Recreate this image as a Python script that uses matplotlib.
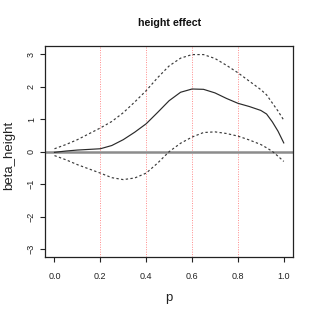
import numpy as np
import matplotlib
matplotlib.use('Agg')
import matplotlib.pyplot as plt

plt.rcParams['font.family'] = ['Liberation Sans', 'DejaVu Sans']

# values
p = [0.0, 0.05, 0.1, 0.15, 0.2, 0.25, 0.3, 0.35, 0.4, 0.45, 0.5, 0.55,
     0.6, 0.65, 0.7, 0.75, 0.8, 0.85, 0.9, 0.925, 0.95, 0.975, 1.0]
beta = [-0.02, 0.02, 0.05, 0.07, 0.09, 0.19, 0.37, 0.6, 0.86, 1.21, 1.57, 1.83,
        1.93, 1.92, 1.81, 1.64, 1.49, 1.39, 1.27, 1.16, 0.92, 0.63, 0.27]
upper = [0.09, 0.22, 0.37, 0.55, 0.73, 0.93, 1.2, 1.53, 1.88, 2.28, 2.64, 2.88,
         2.99, 2.99, 2.87, 2.66, 2.43, 2.17, 1.91, 1.75, 1.5, 1.25, 0.97]
lower = [-0.12, -0.25, -0.4, -0.53, -0.66, -0.8, -0.86, -0.81, -0.66, -0.35, 0.0, 0.26,
         0.45, 0.59, 0.61, 0.56, 0.48, 0.36, 0.22, 0.12, 0.01, -0.14, -0.3]
vlines = [0.2, 0.4, 0.6, 0.8]

fig = plt.figure(figsize=(3.16, 3.16), dpi=100)
ax = fig.add_axes([0.1434, 0.186, 0.7836, 0.668])

for v in vlines:
    ax.axvline(v, color='#ff8a8a', linestyle=(0, (1, 1.5)), linewidth=0.7, zorder=1)
ax.axhline(0, color='#8c8c8c', linewidth=1.8, zorder=2)

ax.plot(p, beta, color='#2a2a2a', linewidth=0.85, zorder=3)
ax.plot(p, upper, color='#3a3a3a', linewidth=0.85, linestyle=(0, (2, 2)), zorder=3)
ax.plot(p, lower, color='#3a3a3a', linewidth=0.85, linestyle=(0, (2, 2)), zorder=3)

ax.set_xlim(-0.04, 1.04)
ax.set_ylim(-3.25, 3.25)
ax.set_xticks([0.0, 0.2, 0.4, 0.6, 0.8, 1.0])
ax.set_xticklabels(['0.0', '0.2', '0.4', '0.6', '0.8', '1.0'])
ax.set_yticks([-3, -2, -1, 0, 1, 2, 3])
ax.set_yticklabels(['\u22123', '\u22122', '\u22121', '0', '1', '2', '3'], rotation=90, va='center')
ax.tick_params(labelsize=6.5, length=3.8, width=0.8, colors='#222222')
ax.tick_params(axis='x', pad=6.5)
ax.tick_params(axis='y', pad=3)

for s in ax.spines.values():
    s.set_linewidth(0.9)
    s.set_color('#222222')

fig.text(0.5355, 0.047, 'p', fontsize=9.5, ha='center', va='baseline', color='#222222')
fig.text(0.029, 0.509, 'beta_height', fontsize=9.5, rotation=90, ha='center', va='center',
         color='#222222')
fig.text(0.5355, 0.926, 'height effect', fontsize=7.7, fontweight='bold', ha='center',
         va='center', color='#111111')

fig.savefig('out.png', dpi=100)
